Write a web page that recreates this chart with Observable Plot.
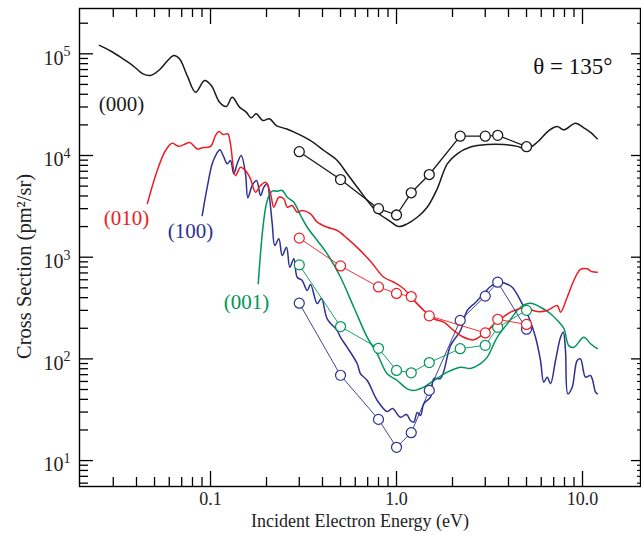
<!DOCTYPE html>
<html>
<head>
<meta charset="utf-8">
<script src="https://cdn.jsdelivr.net/npm/d3@7"></script>
<script src="https://cdn.jsdelivr.net/npm/@observablehq/plot@0.6"></script>
<style>
  body { margin: 0; background: #fff; }
</style>
</head>
<body>
<div id="chart"></div>
<script>
// Vibrational excitation cross sections at θ = 135°, energy-loss spectra (lines)
// and discrete measurements (open circles).

// (000) elastic channel
const e000 = [0.0253, 0.0292, 0.0338, 0.0382, 0.0433, 0.0476, 0.0532, 0.0589, 0.0635, 0.0681,
  0.0755, 0.0831, 0.0929, 0.101, 0.1118, 0.1215, 0.1308, 0.1432, 0.1555, 0.1655,
  0.176, 0.191, 0.2075, 0.2256, 0.2553, 0.2946, 0.345, 0.4066, 0.48, 0.543,
  0.615, 0.696, 0.788, 0.909, 1.029, 1.142, 1.292, 1.462, 1.655, 1.874,
  2.12, 2.50, 3.074, 3.775, 4.456, 5.043, 5.707, 6.59, 7.31, 7.94,
  9.17, 10.16, 11.04, 12.0];
const s000 = [121000, 106000, 89300, 76700, 63500, 61200, 69700, 85900, 96200, 89300,
  58900, 41900, 54600, 48700, 33400, 30300, 37400, 29900, 26700, 23500,
  25700, 22100, 23000, 19700, 18300, 16300, 14000, 11200, 8930, 6610,
  4880, 3610, 2770, 2300, 2000, 2130, 2470, 3100, 4700, 8280,
  10400, 12100, 12800, 12800, 12300, 11600, 13500, 17600, 19300, 17900,
  20800, 18700, 16900, 14600];

// (010) bending
const e010 = [0.0458, 0.0517, 0.0573, 0.0622, 0.0675, 0.0719, 0.0774, 0.0848, 0.0902, 0.1,
  0.1063, 0.1108, 0.117, 0.1239, 0.128, 0.1363, 0.145, 0.1542, 0.164, 0.1746,
  0.1857, 0.1976, 0.2102, 0.219, 0.233, 0.2478, 0.2585, 0.2749, 0.2924, 0.311,
  0.345, 0.3748, 0.424, 0.48, 0.543, 0.64, 0.734, 0.8545, 0.967, 1.094,
  1.239, 1.402, 1.587, 1.796, 2.033, 2.30, 2.604, 2.947, 3.478, 4.10,
  4.835, 5.707, 6.457, 7.31, 7.62, 8.275, 8.98, 9.75, 10.6, 11.18, 12.0];
const s010 = [3380, 7120, 11200, 13200, 12300, 12800, 13400, 11600, 11900, 12300,
  15700, 17200, 16100, 16300, 13000, 6350, 7670, 7120, 5900, 4360,
  5070, 5460, 4200, 3100, 3890, 3750, 3100, 3220, 2770, 2880,
  2670, 2210, 1970, 1830, 1530, 1160, 887, 635, 567, 489,
  375, 299, 248, 230, 190, 163, 154, 177, 230, 288,
  317, 292, 299, 335, 288, 404, 590, 757, 769, 723, 712];

// (100) symmetric stretch
const e100 = [0.0902, 0.096, 0.1021, 0.1077, 0.1122, 0.1179, 0.123, 0.128, 0.1334, 0.1391,
  0.1462, 0.1542, 0.1587, 0.1676, 0.1768, 0.1857, 0.1935, 0.2018, 0.2084, 0.2147,
  0.2216, 0.233, 0.2429, 0.2562, 0.2669, 0.2805, 0.2924, 0.311, 0.331, 0.345,
  0.3748, 0.395, 0.424, 0.48, 0.5, 0.543, 0.615, 0.64, 0.696, 0.788,
  0.891, 0.952, 1.05, 1.132, 1.189, 1.239, 1.292, 1.346, 1.402, 1.523,
  1.587, 1.724, 1.951, 2.208, 2.40, 2.66, 2.947, 3.20, 3.625, 3.855,
  4.19, 4.64, 5.144, 5.59, 5.945, 6.19, 6.457, 6.73, 7.16, 7.62,
  7.88, 8.10, 8.34, 8.80, 9.36, 9.75, 10.38, 11.04, 11.75, 12.0];
const s100 = [2570, 4880, 8280, 10400, 11400, 9620, 8280, 8930, 6610, 8280,
  10000, 6610, 3840, 5070, 5680, 4040, 4880, 5270, 3610, 2130,
  1300, 1520, 1040, 1250, 797, 964, 635, 590, 471, 539,
  350, 393, 248, 190, 163, 130, 89.6, 71.4, 61.3, 39.0,
  30.4, 32.5, 26.7, 28.4, 24.8, 23.9, 29.7, 27.8, 36.2, 42.0,
  64.2, 64.2, 135, 190, 299, 359, 437, 515, 567, 551,
  507, 375, 257, 163, 96.4, 59.0, 66.1, 56.9, 96.4, 163,
  183, 121, 45.4, 52.7, 96.4, 100, 66.1, 68.7, 47.1, 45.4];

// (001) antisymmetric stretch
const e001 = [0.1805, 0.2018, 0.2147, 0.2284, 0.2429, 0.2585, 0.2805, 0.305, 0.331, 0.3748,
  0.424, 0.5, 0.5895, 0.696, 0.788, 0.891, 1.009, 1.142, 1.239, 1.402,
  1.587, 1.874, 2.208, 2.50, 2.83, 3.074, 3.478, 3.94, 4.64, 5.253,
  5.945, 6.73, 7.46, 7.94, 8.44, 8.98, 10.16, 11.04, 12.0];
const s001 = [548, 3610, 4460, 4460, 4530, 3890, 3470, 2570, 1970, 1460,
  1080, 635, 322, 163, 112, 71.4, 61.3, 50.8, 48.9, 52.7,
  61.3, 74.0, 82.8, 80.5, 89.6, 104, 163, 221, 322, 353,
  322, 278, 230, 199, 135, 130, 163, 141, 126];

// Discrete measurements (open circles)
const measEnergy = [0.3, 0.5, 0.8, 1.0, 1.2, 1.5, 2.2, 3.0, 3.5, 5.0];
const meas000 = [10900, 5800, 3000, 2600, 4300, 6500, 15500, 15500, 15800, 12200];
const meas010 = [1540, 820, 510, 440, 410, 265, null, 180, 245, 218];
const meas100 = [353, 69, 25.4, 13.5, 18.8, 49, 239, 414, 568, 196];
const meas001 = [840, 208, 127, 77, 73, 92, 126, 136, 204, 300];

// Series labels
const labelText = ["(000)", "(010)", "(100)", "(001)"];
const labelE = [0.0332, 0.0353, 0.078, 0.156];
const labelS = [32100, 2400, 1790, 359];

// Tick values and labels
const xMajor = [0.1, 1, 10];
const xMajorText = ["0.1", "1.0", "10.0"];
const xMinor = [0.03, 0.04, 0.05, 0.06, 0.07, 0.08, 0.09,
  0.2, 0.3, 0.4, 0.5, 0.6, 0.7, 0.8, 0.9,
  2, 3, 4, 5, 6, 7, 8, 9];
const yMajor = [10, 100, 1000, 10000, 100000];
const yExponent = ["1", "2", "3", "4", "5"];
const yMinor = [6, 7, 8, 9,
  20, 30, 40, 50, 60, 70, 80, 90,
  200, 300, 400, 500, 600, 700, 800, 900,
  2000, 3000, 4000, 5000, 6000, 7000, 8000, 9000,
  20000, 30000, 40000, 50000, 60000, 70000, 80000, 90000,
  200000];
// start of the vertical axis title (energy, cross section), left of the frame
const yTitleE = 0.01;
const yTitleS = 100;

const colors = {
  "000": "#1a1a1a",
  "010": "#ec1c24",
  "100": "#2e3192",
  "001": "#00955a"
};

const zip = (e, s, key) => e.map((x, i) => ({E: x, S: s[i], key}));
const curve000 = zip(e000, s000, "000");
const curve010 = zip(e010, s010, "010");
const curve100 = zip(e100, s100, "100");
const curve001 = zip(e001, s001, "001");
const pts = (s, key) => measEnergy.map((x, i) => ({E: x, S: s[i], key})).filter(d => d.S != null);
const m000 = pts(meas000, "000");
const m010 = pts(meas010, "010");
const m100 = pts(meas100, "100");
const m001 = pts(meas001, "001");
const labels = labelText.map((t, i) => ({t, E: labelE[i], S: labelS[i], key: ["000", "010", "100", "001"][i]}));

const W = 641, H = 536;
const mL = 79, mR = 1, mT = 8, mB = 50;
const plotW = W - mL - mR, plotH = H - mT - mB;
const serif = "'Liberation Serif', 'Times New Roman', serif";

const spectrum = (data, color) =>
  Plot.line(data, {x: "E", y: "S", stroke: color, strokeWidth: 1.5, curve: "catmull-rom"});

const circleMarks = (data, color, sw, lw) => [
  Plot.line(data, {x: "E", y: "S", stroke: color, strokeWidth: lw}),
  Plot.dot(data, {x: "E", y: "S", r: 5, stroke: color, strokeWidth: sw, fill: "white"})
];

const chart = Plot.plot({
  width: W,
  height: H,
  marginLeft: mL,
  marginRight: mR,
  marginTop: mT,
  marginBottom: mB,
  style: {fontFamily: serif, background: "white"},
  x: {type: "log", domain: [0.01975, 20.5], axis: null},
  y: {type: "log", domain: [5.56, 279000], axis: null},
  marks: [
    // spectra
    spectrum(curve000, colors["000"]),
    spectrum(curve100, colors["100"]),
    spectrum(curve001, colors["001"]),
    spectrum(curve010, colors["010"]),
    // measurements
    ...circleMarks(m100, colors["100"], 1.2, 0.9),
    ...circleMarks(m001, colors["001"], 1.2, 0.9),
    ...circleMarks(m010, colors["010"], 1.2, 0.9),
    ...circleMarks(m000, colors["000"], 1.3, 1.3),
    // series labels
    Plot.text(labels, {x: "E", y: "S", text: "t", fill: d => colors[d.key], fontSize: 21}),
    Plot.text(["θ = 135°"], {frameAnchor: "top-right", text: d => d, dx: -28, dy: 49, fontSize: 23, fill: "#111"}),
    // ticks, all pointing inward
    Plot.tickX(xMajor, {x: d => d, insetTop: plotH - 15, stroke: "black", strokeWidth: 1.3}),
    Plot.tickX(xMinor, {x: d => d, insetTop: plotH - 9, stroke: "black", strokeWidth: 1.3}),
    Plot.tickX(xMajor, {x: d => d, insetBottom: plotH - 16, stroke: "black", strokeWidth: 1.3}),
    Plot.tickX(xMinor, {x: d => d, insetBottom: plotH - 9, stroke: "black", strokeWidth: 1.3}),
    Plot.tickY(yMajor, {y: d => d, insetRight: plotW - 14, stroke: "black", strokeWidth: 1.3}),
    Plot.tickY(yMinor, {y: d => d, insetRight: plotW - 9, stroke: "black", strokeWidth: 1.3}),
    Plot.tickY(yMajor, {y: d => d, insetLeft: plotW - 9, stroke: "black", strokeWidth: 1.3}),
    Plot.tickY(yMinor, {y: d => d, insetLeft: plotW - 3, stroke: "black", strokeWidth: 1.1}),
    Plot.frame({stroke: "black", strokeWidth: 1.4}),
    // tick labels
    Plot.text(xMajor, {x: d => d, text: (d, i) => xMajorText[i], frameAnchor: "bottom", lineAnchor: "top", dy: 6, fontSize: 18, fill: "#222"}),
    Plot.text(yMajor, {y: d => d, text: () => "10", frameAnchor: "left", textAnchor: "end", dx: -16, dy: 4.5, fontSize: 20, fill: "#222"}),
    Plot.text(yMajor, {y: d => d, text: (d, i) => yExponent[i], frameAnchor: "left", textAnchor: "start", dx: -16, dy: -2, fontSize: 14, fill: "#222"}),
    // axis titles
    Plot.text(["Incident Electron Energy (eV)"], {frameAnchor: "bottom", text: d => d, lineAnchor: "top", dy: 28, fontSize: 18, fill: "#222"}),
    Plot.text(["Cross Section (pm²/sr)"], {x: () => yTitleE, y: () => yTitleS, textAnchor: "start", text: d => d, rotate: -90, fontSize: 20.5, fill: "#222"})
  ]
});

document.getElementById("chart").appendChild(chart);
</script>
</body>
</html>
